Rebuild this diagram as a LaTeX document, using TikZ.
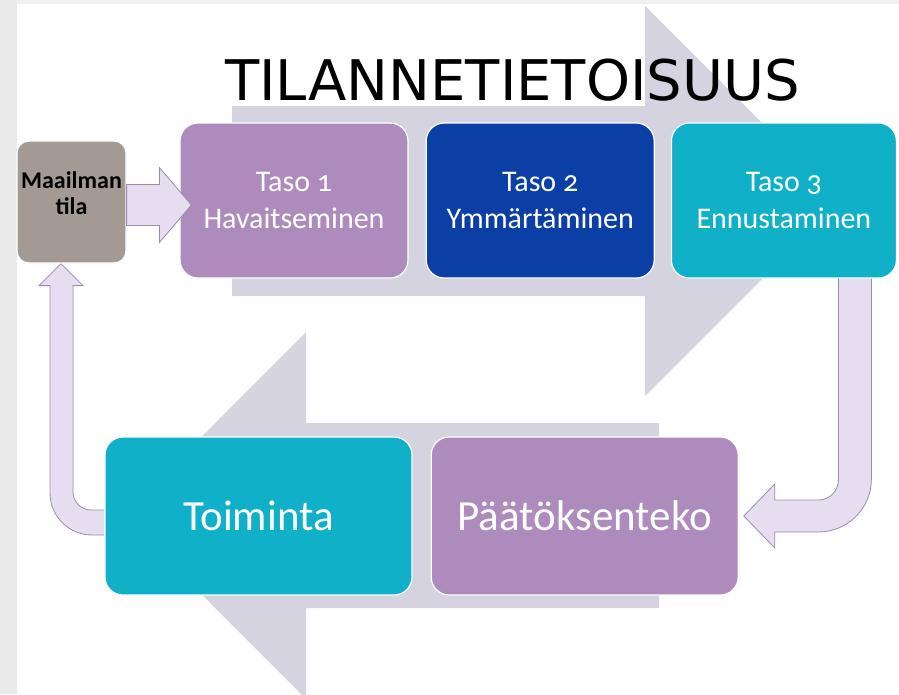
\documentclass[tikz,border=0pt]{standalone}
\usepackage{fontspec}
\setmainfont{Carlito}
\newfontfamily\titlefont{DejaVu Sans}
\newfontfamily\tasofont[Numbers=OldStyle]{Carlito}
\usetikzlibrary{positioning, calc}

\definecolor{tasopurple}{HTML}{AD8CBD}
\definecolor{tasoblue}{HTML}{0C3FA5}
\definecolor{tasocyan}{HTML}{10B0C9}
\definecolor{worldgrey}{HTML}{A29A93}
\definecolor{bgarrow}{HTML}{D5D3E0}
\definecolor{connfill}{HTML}{E6DEF0}
\definecolor{connedge}{HTML}{9C8BAD}
\definecolor{pagegrey}{HTML}{E9E9E9}

\pgfdeclarelayer{back}
\pgfdeclarelayer{mid}
\pgfsetlayers{back,mid,main}

\begin{document}
\begin{tikzpicture}[x=1pt, y=-1pt,
    box/.style={draw=white, line width=1.2pt, rounded corners=18pt, text=white,
      align=center, inner sep=0pt},
    tasobox/.style={box, minimum width=228pt, minimum height=155pt,
      font=\tasofont\fontsize{30}{37}\selectfont},
    bigbox/.style={box, minimum width=307pt, minimum height=158pt,
      font=\fontsize{43}{50}\selectfont},
    conn/.style={fill=connfill, draw=connedge, line width=0.8pt}]
  \useasboundingbox (0,0) rectangle (899,694);

  %page edges
  \fill[pagegrey] (0,0) rectangle (17,694);
  \fill[pagegrey!70!white] (17,0) rectangle (899,4);

  %big arrows behind
  \begin{pgfonlayer}{back}
    \fill[bgarrow] (232,106) -- (645,106) -- (645,6) -- (840,201) -- (645,396)
      -- (645,296) -- (232,296) -- cycle;
    \fill[bgarrow] (659,423) -- (306,423) -- (306,332) -- (123,515.5) -- (306,699)
      -- (306,608) -- (659,608) -- cycle;
  \end{pgfonlayer}

  \node[anchor=base, font=\titlefont\fontsize{56}{60}\selectfont] (title) at (512.5,100)
    {TILANNETIETOISUUS};

  \node[box, fill=worldgrey, rounded corners=12pt, minimum width=109pt, minimum height=122pt,
    label={[text=black, align=center, yshift=9pt,
      font=\bfseries\fontsize{24}{26}\selectfont]center:Maailman\\tila}]
    (maailma) at (71.5,202) {};

  \node[tasobox, fill=tasopurple] (taso1) at (294,200.5) {Taso 1\\Havaitseminen};
  \node[tasobox, fill=tasoblue, right=17pt of taso1] (taso2) {Taso 2\\Ymmärtäminen};
  \node[tasobox, fill=tasocyan, right=16pt of taso2, minimum width=225pt] (taso3)
    {Taso 3\\Ennustaminen};

  \node[bigbox, fill=tasocyan] (toiminta) at (258.5,516) {Toiminta};
  \node[bigbox, fill=tasopurple, right=18pt of toiminta] (paatos) {Päätöksenteko};

  %connectors
  \draw[conn] let \p1=(maailma.east), \p2=(taso1.west) in
    (\x1,\y1-3pt+20.5pt) -- (\x2-20pt,\y1-3pt+20.5pt) -- (\x2-20pt,\y1-3pt+37.5pt)
    -- (\x2+12pt,\y1-3pt) -- (\x2-20pt,\y1-3pt-37.5pt) -- (\x2-20pt,\y1-3pt-20.5pt)
    -- (\x1,\y1-3pt-20.5pt) -- cycle;

  \begin{pgfonlayer}{mid}
    \draw[conn] let \p1=(taso3.south), \p2=(paatos.east) in
      (\x1+54.5pt,\y1+4pt) -- (\x1+54.5pt,\y2+36pt)
      arc[start angle=0, end angle=-90, radius=20pt]
      -- (\x2+36pt,\y2+16pt) -- (\x2+36pt,\y2+32pt) -- (\x2+5pt,\y2)
      -- (\x2+36pt,\y2-32pt) -- (\x2+36pt,\y2-16pt) -- (\x1+34.5pt,\y2-16pt)
      arc[start angle=270, end angle=360, radius=53pt]
      -- (\x1+87.5pt,\y1+4pt) -- cycle;

    \draw[conn] let \p1=(toiminta.west), \p2=(maailma.south) in
      (\x1+4pt,\y1+6pt) -- (\x2+19.5pt,\y1+6pt)
      arc[start angle=270, end angle=180, radius=18pt]
      -- (\x2+1.5pt,\y2-22pt) -- (\x2+11.5pt,\y2-22pt) -- (\x2-10.5pt,\y2)
      -- (\x2-32.5pt,\y2-22pt) -- (\x2-21.5pt,\y2-22pt) -- (\x2-21.5pt,\y1+23pt)
      arc[start angle=180, end angle=270, radius=42pt]
      -- (\x1+4pt,\y1-19pt) -- cycle;
  \end{pgfonlayer}
\end{tikzpicture}
\end{document}
